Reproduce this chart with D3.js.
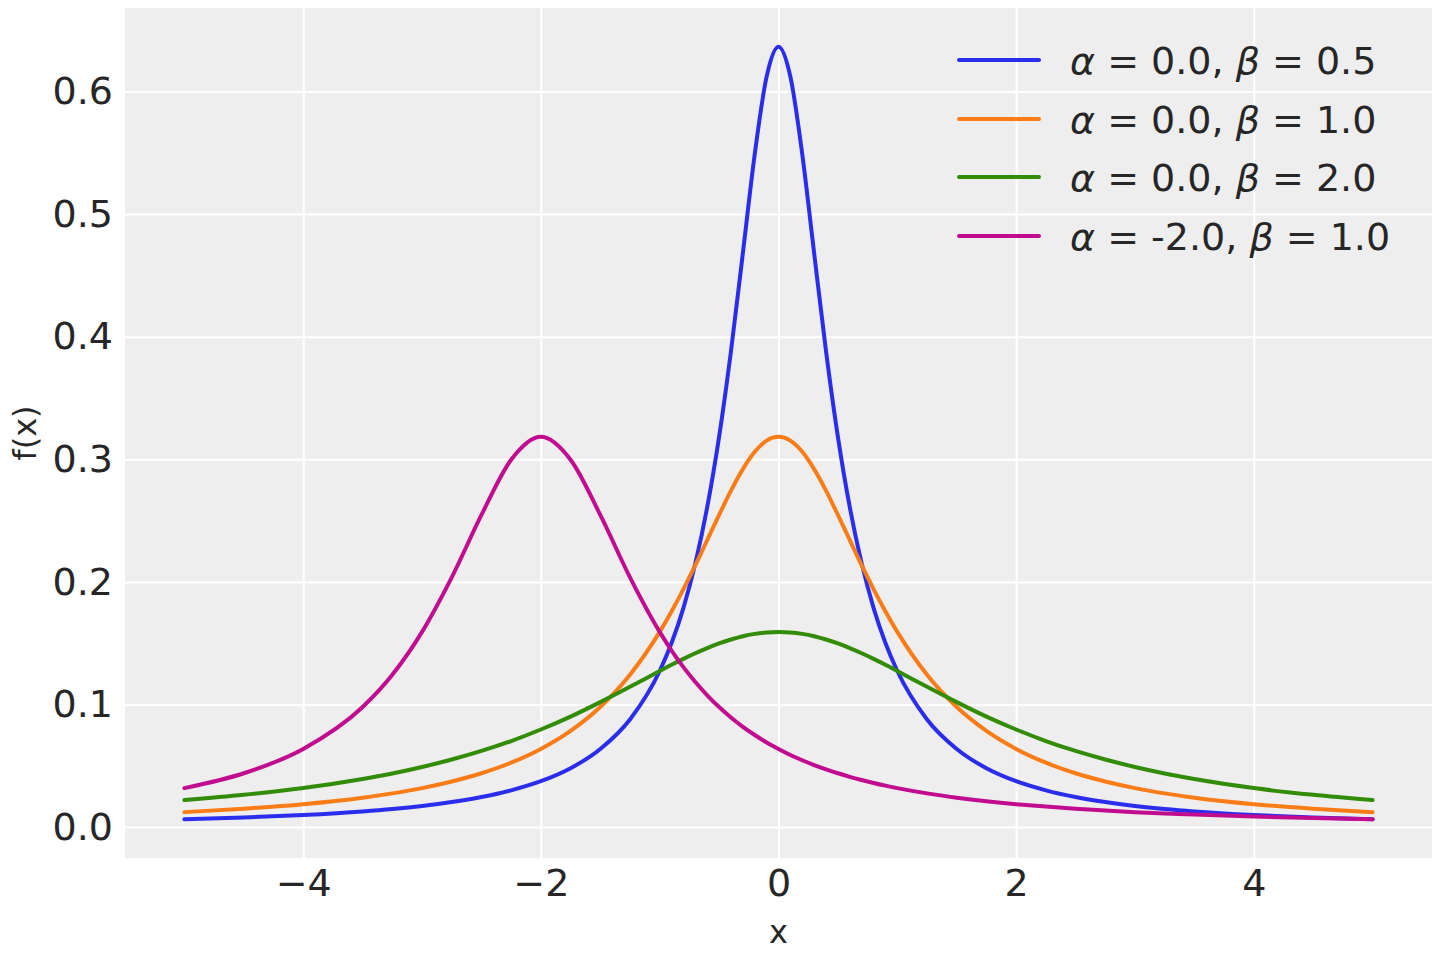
<!DOCTYPE html>
<html>
<head>
<meta charset="utf-8">
<script src="https://cdn.jsdelivr.net/npm/d3@7"></script>
<style>
  html, body { margin: 0; padding: 0; background: #fff; }
  svg { display: block; }
  svg text { font-family: "DejaVu Sans", sans-serif; }
</style>
</head>
<body>
<div id="chart"></div>
<script>
const xs = [-5, -4.5, -4, -3.5, -3.25, -3, -2.75, -2.5, -2.25, -2, -1.75, -1.5, -1.25, -1,
  -0.9, -0.8, -0.7, -0.6, -0.5, -0.4, -0.3, -0.2, -0.1, 0, 0.1, 0.2, 0.3, 0.4, 0.5, 0.6, 0.7, 0.8, 0.9,
  1, 1.25, 1.5, 1.75, 2, 2.25, 2.5, 2.75, 3, 3.25, 3.5, 4, 4.5, 5];

const blueVals = [0.0063, 0.0078, 0.0098, 0.0127, 0.0147, 0.0172, 0.0204, 0.0245, 0.0300, 0.0374, 0.0480, 0.0637, 0.0878, 0.1273,
  0.1501, 0.1788, 0.2151, 0.2609, 0.3183, 0.3882, 0.4681, 0.5488, 0.6121, 0.6366, 0.6121, 0.5488, 0.4681, 0.3882, 0.3183, 0.2609, 0.2151, 0.1788, 0.1501,
  0.1273, 0.0878, 0.0637, 0.0480, 0.0374, 0.0300, 0.0245, 0.0204, 0.0172, 0.0147, 0.0127, 0.0098, 0.0078, 0.0063];

const orangeVals = [0.0122, 0.0150, 0.0187, 0.0240, 0.0275, 0.0318, 0.0372, 0.0439, 0.0525, 0.0637, 0.0784, 0.0979, 0.1242, 0.1592,
  0.1759, 0.1941, 0.2136, 0.2341, 0.2546, 0.2744, 0.2920, 0.3061, 0.3152, 0.3183, 0.3152, 0.3061, 0.2920, 0.2744, 0.2546, 0.2341, 0.2136, 0.1941, 0.1759,
  0.1592, 0.1242, 0.0979, 0.0784, 0.0637, 0.0525, 0.0439, 0.0372, 0.0318, 0.0275, 0.0240, 0.0187, 0.0150, 0.0122];

const greenVals = [0.0220, 0.0263, 0.0318, 0.0392, 0.0437, 0.0490, 0.0551, 0.0621, 0.0702, 0.0796, 0.0901, 0.1019, 0.1144, 0.1273,
  0.1324, 0.1372, 0.1418, 0.1460, 0.1498, 0.1530, 0.1557, 0.1576, 0.1588, 0.1592, 0.1588, 0.1576, 0.1557, 0.1530, 0.1498, 0.1460, 0.1418, 0.1372, 0.1324,
  0.1273, 0.1144, 0.1019, 0.0901, 0.0796, 0.0702, 0.0621, 0.0551, 0.0490, 0.0437, 0.0392, 0.0318, 0.0263, 0.0220];

const magentaVals = [0.0318, 0.0439, 0.0637, 0.0979, 0.1242, 0.1592, 0.2037, 0.2546, 0.2996, 0.3183, 0.2996, 0.2546, 0.2037, 0.1592,
  0.1440, 0.1305, 0.1183, 0.1075, 0.0979, 0.0894, 0.0818, 0.0751, 0.0690, 0.0637, 0.0588, 0.0545, 0.0506, 0.0471, 0.0439, 0.0410, 0.0384, 0.0360, 0.0338,
  0.0318, 0.0275, 0.0240, 0.0211, 0.0187, 0.0167, 0.0150, 0.0135, 0.0122, 0.0111, 0.0102, 0.0086, 0.0074, 0.0064];

const alphas = ['0.0', '0.0', '0.0', '-2.0'];
const betas = ['0.5', '1.0', '2.0', '1.0'];
const colors = ['#2a2eec', '#fa7c17', '#328c06', '#c10c90'];
const seriesVals = [blueVals, orangeVals, greenVals, magentaVals];

const xTicks = [-4, -2, 0, 2, 4];
const yTicks = [0, 0.1, 0.2, 0.3, 0.4, 0.5, 0.6];

const W = 1440, H = 960;
const PLOT = { left: 125, right: 1432, top: 8, bottom: 858 };
const TEXT = '#262626';
const FONT = '"DejaVu Sans", sans-serif';

const svg = d3.select('#chart').append('svg')
  .attr('width', W).attr('height', H)
  .style('font-family', FONT);

// matplotlib-style 5% margins around the data
const x = d3.scaleLinear().domain([-5.5, 5.5]).range([PLOT.left, PLOT.right]);
const yMin = 0.0063, yMax = 0.6366, pad = (yMax - yMin) * 0.05;
const y = d3.scaleLinear().domain([yMin - pad, yMax + pad]).range([PLOT.bottom, PLOT.top]);

svg.append('rect')
  .attr('x', PLOT.left).attr('y', PLOT.top)
  .attr('width', PLOT.right - PLOT.left).attr('height', PLOT.bottom - PLOT.top)
  .attr('fill', '#eeeeee');

// grid via axes with full-length ticks
const gx = svg.append('g').attr('transform', `translate(0,${PLOT.bottom})`)
  .call(d3.axisBottom(x).tickValues(xTicks)
    .tickSize(-(PLOT.bottom - PLOT.top)).tickPadding(12)
    .tickFormat(d => d < 0 ? '\u2212' + Math.abs(d) : String(d)));
gx.attr('font-family', FONT);
gx.select('.domain').remove();
gx.selectAll('line').attr('stroke', '#fff').attr('stroke-width', 2);
gx.selectAll('text').attr('fill', TEXT).style('font-size', '38px')
  .attr('dy', '0.71em').attr('y', 11);

const gy = svg.append('g').attr('transform', `translate(${PLOT.left},0)`)
  .call(d3.axisLeft(y).tickValues(yTicks)
    .tickSize(-(PLOT.right - PLOT.left)).tickPadding(12)
    .tickFormat(d3.format('.1f')));
gy.attr('font-family', FONT);
gy.select('.domain').remove();
gy.selectAll('line').attr('stroke', '#fff').attr('stroke-width', 2);
gy.selectAll('text').attr('fill', TEXT).style('font-size', '38px');

// axis labels
svg.append('text')
  .attr('x', x(0)).attr('y', 943)
  .attr('text-anchor', 'middle').attr('fill', TEXT).style('font-size', '32px')
  .text('x');
svg.append('text')
  .attr('transform', `translate(36,${(PLOT.top + PLOT.bottom) / 2}) rotate(-90)`)
  .attr('text-anchor', 'middle').attr('fill', TEXT).style('font-size', '32px')
  .text('f(x)');

// curves
const line = d3.line()
  .x(d => x(d[0])).y(d => y(d[1]))
  .curve(d3.curveMonotoneX);

seriesVals.forEach((vals, i) => {
  svg.append('path')
    .datum(xs.map((xv, j) => [xv, vals[j]]))
    .attr('d', line)
    .attr('fill', 'none')
    .attr('stroke', colors[i])
    .attr('stroke-width', 4)
    .attr('stroke-linecap', 'round')
    .attr('stroke-linejoin', 'round');
});

// legend
const legend = svg.append('g');
const rowY = [60, 119, 177, 236];
alphas.forEach((a, i) => {
  const ry = rowY[i];
  legend.append('line')
    .attr('x1', 959).attr('x2', 1039)
    .attr('y1', ry).attr('y2', ry)
    .attr('stroke', colors[i]).attr('stroke-width', 4)
    .attr('stroke-linecap', 'round');
  const t = legend.append('text')
    .attr('x', 1070).attr('y', ry + 14)
    .attr('fill', TEXT).style('font-size', '38px')
    .attr('xml:space', 'preserve');
  t.append('tspan').style('font-style', 'italic').text('\u03b1');
  t.append('tspan').text(` = ${a}, `);
  t.append('tspan').style('font-style', 'italic').text('\u03b2');
  t.append('tspan').text(` = ${betas[i]}`);
});
</script>
</body>
</html>
